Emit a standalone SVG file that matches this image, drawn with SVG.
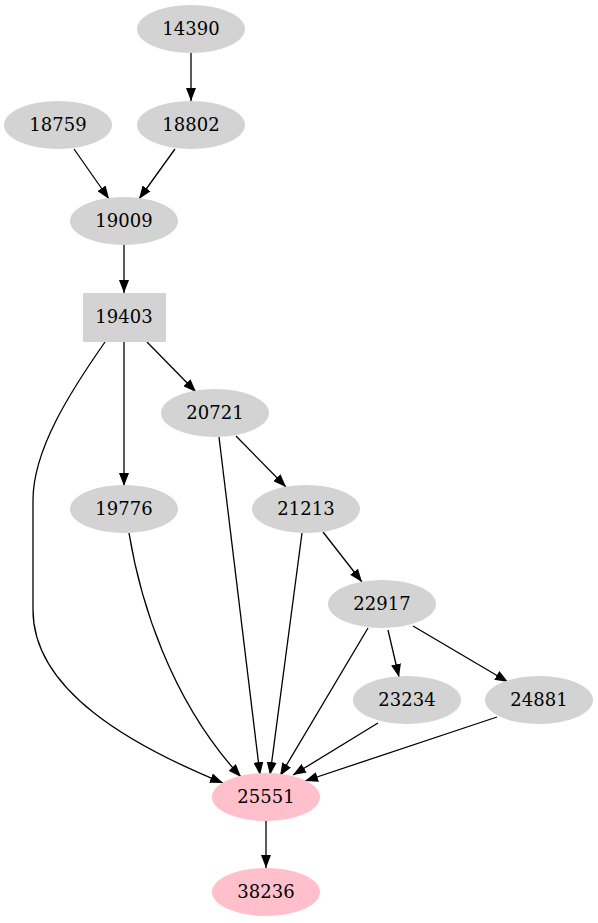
<svg xmlns="http://www.w3.org/2000/svg" width="598" height="923" viewBox="0 0 598 923">
<style>
.g{fill:#d3d3d3;stroke:none}
.p{fill:#ffc0cb;stroke:none}
text{font-family:"DejaVu Serif",serif;font-size:18px;text-anchor:middle;fill:#000}
.e{fill:none;stroke:#000;stroke-width:1.3}
</style>
<defs>
<marker id="a" viewBox="0 0 13 10" refX="13" refY="5" markerWidth="13" markerHeight="10" markerUnits="userSpaceOnUse" orient="auto">
<path d="M0,0 L13,5 L0,10 z" fill="#000"/>
</marker>
</defs>
<g id="edges">
<path class="e" marker-end="url(#a)" d="M191,53 L191,101"/>
<path class="e" marker-end="url(#a)" d="M74,149 L109,199"/>
<path class="e" marker-end="url(#a)" d="M175,149 L139,199"/>
<path class="e" marker-end="url(#a)" d="M124,245 L124,293"/>
<path class="e" marker-end="url(#a)" d="M147,342 L196,392"/>
<path class="e" marker-end="url(#a)" d="M124,342 L124,486"/>
<path class="e" marker-end="url(#a)" d="M105,342 C70,392 33,450 33,500 L33,610 C33,690 130,745 223,783"/>
<path class="e" marker-end="url(#a)" d="M236,436 L286,487"/>
<path class="e" marker-end="url(#a)" d="M129,533 C140,600 170,700 241,777"/>
<path class="e" marker-end="url(#a)" d="M219,437 L260,775"/>
<path class="e" marker-end="url(#a)" d="M302,533 L270,775"/>
<path class="e" marker-end="url(#a)" d="M323,532 L362,582"/>
<path class="e" marker-end="url(#a)" d="M368,628 L280,776"/>
<path class="e" marker-end="url(#a)" d="M388,630 L399,677"/>
<path class="e" marker-end="url(#a)" d="M413,626 L508,682"/>
<path class="e" marker-end="url(#a)" d="M378,723 L293,775"/>
<path class="e" marker-end="url(#a)" d="M497,717 L305,781"/>
<path class="e" marker-end="url(#a)" d="M266,821 L266,868"/>
</g>
<g id="n14390"><ellipse class="g" cx="191" cy="29" rx="54" ry="24"/><text x="191" y="35">14390</text></g>
<g id="n18759"><ellipse class="g" cx="58" cy="125" rx="54" ry="24"/><text x="58" y="131">18759</text></g>
<g id="n18802"><ellipse class="g" cx="191" cy="125" rx="54" ry="24"/><text x="191" y="131">18802</text></g>
<g id="n19009"><ellipse class="g" cx="124" cy="221" rx="54" ry="24"/><text x="124" y="227">19009</text></g>
<g id="n19403"><rect class="g" x="83" y="293" width="83" height="49"/><text x="124" y="323">19403</text></g>
<g id="n20721"><ellipse class="g" cx="215" cy="413" rx="54" ry="24"/><text x="215" y="419">20721</text></g>
<g id="n19776"><ellipse class="g" cx="124" cy="509" rx="54" ry="24"/><text x="124" y="515">19776</text></g>
<g id="n21213"><ellipse class="g" cx="306" cy="509" rx="54" ry="24"/><text x="306" y="515">21213</text></g>
<g id="n22917"><ellipse class="g" cx="382" cy="604" rx="54" ry="24"/><text x="382" y="610">22917</text></g>
<g id="n23234"><ellipse class="g" cx="407" cy="700" rx="54" ry="24"/><text x="407" y="706">23234</text></g>
<g id="n24881"><ellipse class="g" cx="539" cy="700" rx="54" ry="24"/><text x="539" y="706">24881</text></g>
<g id="n25551"><ellipse class="p" cx="266" cy="797" rx="54" ry="24"/><text x="266" y="803">25551</text></g>
<g id="n38236"><ellipse class="p" cx="266" cy="892" rx="54" ry="24"/><text x="266" y="898">38236</text></g>
</svg>
